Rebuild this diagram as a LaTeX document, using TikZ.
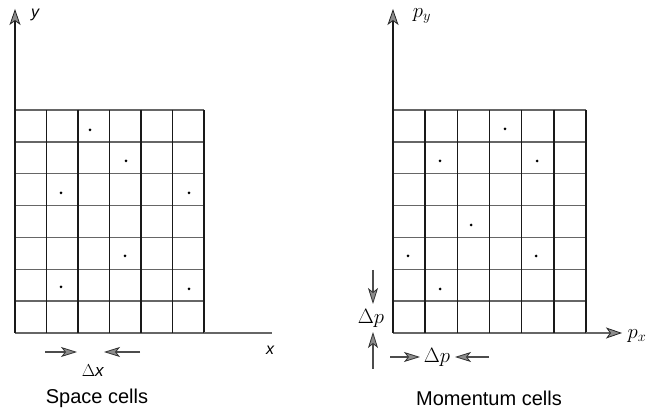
\documentclass[tikz,border=0pt]{standalone}
\usepackage{fontspec}
\setsansfont{Liberation Sans}
\usetikzlibrary{arrows.meta}
\begin{document}
\begin{tikzpicture}[x=1pt,y=-1pt,
  vline/.style={line width=1.5pt, draw=black!90},
  hline/.style={line width=1.5pt, draw=black!60},
  axis/.style={line width=1.5pt, draw=black!90},
  xaxis/.style={line width=1.3pt, draw=black!60},
  tip/.style={-{Stealth[length=16pt,width=11pt,inset=4pt,color=black!85,fill=black!45,line width=0.8pt]}},
  dim/.style={line width=1.3pt, draw=black!70, -{Stealth[length=16pt,width=10pt,inset=4pt,color=black!80,fill=black!45,line width=0.8pt]}},
  dot/.style={circle, fill=black, inner sep=0pt, minimum size=3pt},
  lab/.style={font=\sffamily\itshape\fontsize{16}{18}\selectfont, inner sep=1pt},
  captext/.style={font=\sffamily\fontsize{20}{22}\selectfont, inner sep=1pt},
  dl/.style={font=\fontsize{20}{22}\selectfont, inner sep=1pt}
]
\useasboundingbox (0,0) rectangle (646,411);

% ---------- Left panel: space cells ----------
\coordinate (LO) at (15,333);
\coordinate (LYtop) at (15,9);
\coordinate (LXend) at (272,333);
\foreach \i in {0,...,7} {
  \draw[hline] (15,{110+\i*31.857}) -- (204,{110+\i*31.857});
}
\foreach \i in {1,...,6} {
  \draw[vline] ({15+\i*31.5},110) -- ({15+\i*31.5},333);
}
\draw[xaxis] (204,333) -- (LXend);
\draw[axis,tip] (LO) -- (LYtop);
\foreach \p [count=\k] in {(90,130),(126,161),(61,193),(189,193),(125,256),(61,287),(189,289)} {
  \node[dot] (ld\k) at \p {};
}
\node[lab] (ly) at (35,15) {y};
\node[lab] (lx) at (270,350) {x};
\coordinate (dxa1) at (45,352);
\coordinate (dxa2) at (77,352);
\coordinate (dxb1) at (140,352);
\coordinate (dxb2) at (104,352);
\draw[dim] (dxa1) -- (dxa2);
\draw[dim] (dxb1) -- (dxb2);
\node[font=\sffamily\fontsize{17}{19}\selectfont, inner sep=1pt] (dx) at (93,371) {$\Delta$\textit{x}};
\node[captext] (lcap) at (97,398) {Space cells};

% ---------- Right panel: momentum cells ----------
\coordinate (RO) at (393,333);
\coordinate (RYtop) at (393,9);
\coordinate (RXend) at (622,333);
\foreach \i in {0,...,7} {
  \draw[hline] (393,{110+\i*31.857}) -- (586,{110+\i*31.857});
}
\foreach \i in {1,...,6} {
  \draw[vline] ({393+\i*32.167},110) -- ({393+\i*32.167},333);
}
\draw[xaxis,tip] (586,333) -- (RXend);
\draw[axis,tip] (RO) -- (RYtop);
\foreach \p [count=\k] in {(505,129),(440,161),(537,161),(471,225),(408,256),(536,256),(440,289)} {
  \node[dot] (rd\k) at \p {};
}
\node[dl] (py) at (422,16) {$p_y$};
\node[dl] (px) at (637,336) {$p_x$};
\coordinate (dpv1) at (373,270);
\coordinate (dpv2) at (373,304);
\coordinate (dpv3) at (373,369);
\coordinate (dpv4) at (373,332);
\draw[dim] (dpv1) -- (dpv2);
\draw[dim] (dpv3) -- (dpv4);
\node[dl] (dpv) at (371,318) {$\Delta p$};
\coordinate (dph1) at (390,357);
\coordinate (dph2) at (420,357);
\coordinate (dph3) at (489,357);
\coordinate (dph4) at (455,357);
\draw[dim] (dph1) -- (dph2);
\draw[dim] (dph3) -- (dph4);
\node[dl] (dph) at (437,357) {$\Delta p$};
\node[captext] (rcap) at (489,398) {Momentum cells};
\end{tikzpicture}
\end{document}
